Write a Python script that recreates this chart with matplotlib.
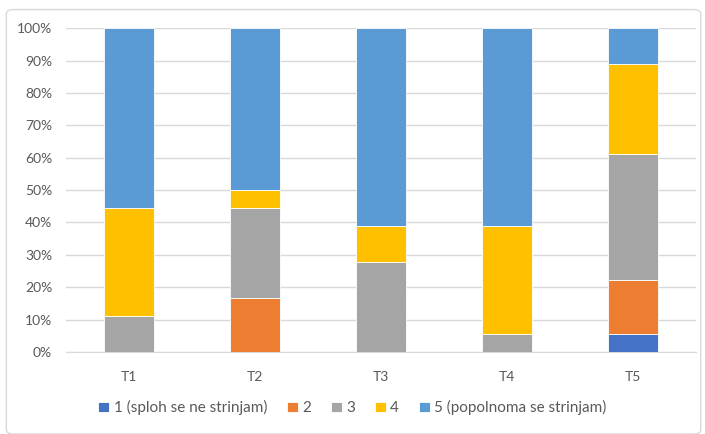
import numpy as np
import matplotlib.pyplot as plt
from matplotlib.patches import FancyBboxPatch
from matplotlib.ticker import PercentFormatter

plt.rcParams['font.family'] = ['Lato', 'DejaVu Sans']

kategorije = ['T1', 'T2', 'T3', 'T4', 'T5']
oznake = ['1 (sploh se ne strinjam)', '2', '3', '4', '5 (popolnoma se strinjam)']
# deleži odgovorov v % (18 anketirancev)
odg1 = [0.0, 0.0, 0.0, 0.0, 5.6]
odg2 = [0.0, 16.7, 0.0, 0.0, 16.7]
odg3 = [11.1, 27.8, 27.8, 5.6, 38.9]
odg4 = [33.3, 5.6, 11.1, 33.3, 27.7]
odg5 = [55.6, 50.0, 61.1, 61.1, 11.1]
barve = ['#4472C4', '#ED7D31', '#A5A5A5', '#FFC000', '#5B9BD5']

fig = plt.figure(figsize=(7.05, 4.34), dpi=100)
okvir = FancyBboxPatch((0.009, 0.0), 0.985, 0.978, boxstyle='round,pad=0,rounding_size=0.01',
                       transform=fig.transFigure, fc='white', ec='#D9D9D9', lw=1, zorder=-1)
fig.patches.append(okvir)

ax = fig.add_axes([0.0936, 0.189, 0.8934, 0.746])
ax.patch.set_alpha(0)
x = np.arange(len(kategorije))
dno = np.zeros(len(kategorije))
for vrednosti, oznaka, barva in zip([odg1, odg2, odg3, odg4, odg5], oznake, barve):
    ax.bar(x, vrednosti, 0.4, bottom=dno, color=barva, label=oznaka,
           edgecolor='white', linewidth=0.6, zorder=3)
    dno += np.array(vrednosti)

ax.set_xlim(-0.5, len(kategorije) - 0.5)
ax.set_ylim(0, 100)
ax.set_yticks(np.arange(0, 101, 10))
ax.yaxis.set_major_formatter(PercentFormatter(decimals=0))
ax.set_xticks(x)
ax.set_xticklabels(kategorije)
ax.grid(axis='y', color='#D9D9D9', lw=1, zorder=0)
for s in ['top', 'right', 'left']:
    ax.spines[s].set_visible(False)
ax.spines['bottom'].set_color('#D9D9D9')
ax.tick_params(axis='both', length=0, colors='#595959', labelsize=10)
ax.tick_params(axis='x', pad=14)
ax.tick_params(axis='y', pad=10)

fig.legend(loc='center', bbox_to_anchor=(0.5, 0.06), ncol=5, frameon=False,
           fontsize=11, labelcolor='#595959', handlelength=0.7, handleheight=0.7,
           handletextpad=0.3, columnspacing=1.3)

fig.savefig('out.png', dpi=100)
